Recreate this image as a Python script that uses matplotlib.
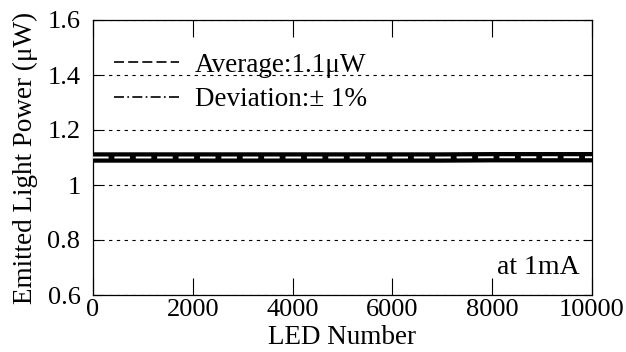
import matplotlib.pyplot as plt
import numpy as np
from matplotlib.lines import Line2D

# LED number vs emitted power (uW) (band is flat at ~1.1)
led_number = [0, 1000, 2000, 3000, 4000, 5000, 6000, 7000, 8000, 9000, 10000]
power = [1.100, 1.100, 1.100, 1.100, 1.100, 1.100, 1.100, 1.100, 1.101, 1.101, 1.101]
average = 1.1
deviation = 0.01  # +/- 1%

plt.rcParams['font.family'] = ['Liberation Serif', 'DejaVu Serif']

fig = plt.figure(figsize=(6.26, 3.52), dpi=100)
ax = fig.add_axes([93 / 626, 1 - 295 / 352, (592 - 93) / 626, (295 - 20) / 352])

x = np.array(led_number)
y = np.array(power)

# data band: thick black line with white dashes through the middle
ax.plot(x, y, color='black', lw=7.5, solid_capstyle='round', zorder=3)
ax.plot(x, y, color='white', lw=1.4, dashes=(8, 3), zorder=4)

ax.set_xlim(0, 10000)
ax.set_ylim(0.6, 1.6)
ax.set_xticks([0, 2000, 4000, 6000, 8000, 10000])
ax.set_yticks([0.6, 0.8, 1.0, 1.2, 1.4, 1.6])
ax.set_yticklabels(['0.6', '0.8', '1', '1.2', '1.4', '1.6'])
ax.yaxis.grid(True, linestyle=(0, (3, 4)), color='black', lw=0.8)
ax.tick_params(axis='x', direction='in', length=12, width=0.8, top=True,
               labelsize=19, pad=3)
ax.tick_params(axis='y', direction='in', length=6, width=0.8, right=True,
               labelsize=19, pad=9)
for s in ax.spines.values():
    s.set_linewidth(0.9)

ax.set_xlabel('LED Number', fontsize=19.5, labelpad=3)
ax.set_ylabel('Emitted Light Power (μW)', fontsize=19.5, labelpad=7)

handles = [Line2D([0], [0], color='black', lw=1.2, dashes=(6, 2.5)),
           Line2D([0], [0], color='black', lw=1.2, dashes=(6, 2, 1, 2))]
ax.legend(handles, ['Average:%.1fμW' % average,
                    'Deviation:± %d%%' % round(deviation * 100)],
          loc='upper left', bbox_to_anchor=(0.02, 0.92), frameon=False,
          fontsize=19.5, handlelength=2.4, handletextpad=0.6,
          labelspacing=0.35, borderaxespad=0.0)

ax.text(0.975, 0.1, 'at 1mA', transform=ax.transAxes, ha='right', va='center',
        fontsize=20)

fig.savefig('out.png', dpi=100)
